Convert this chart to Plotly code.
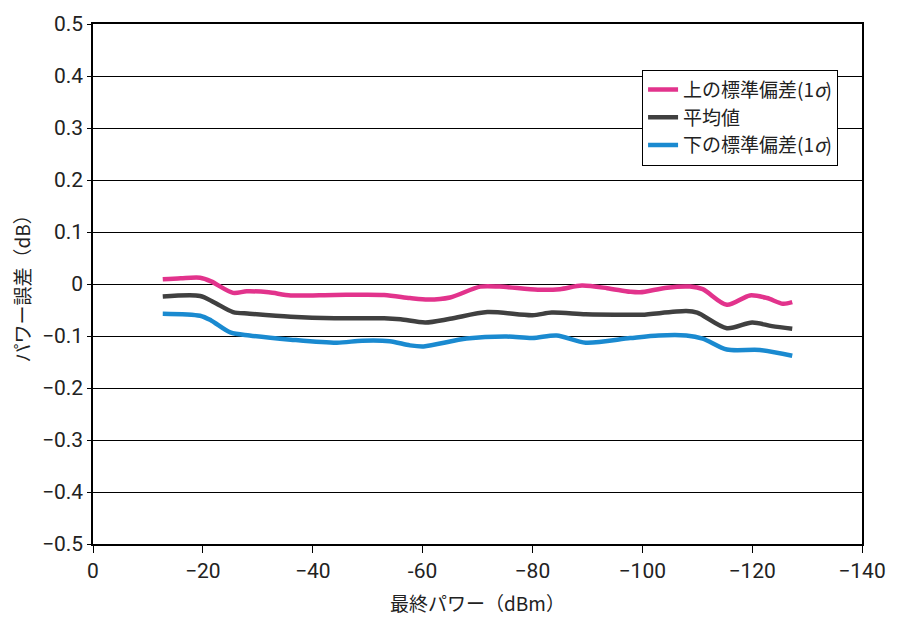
import plotly.graph_objects as go

# Upper standard deviation (1σ)
upper_x = [-12.7, -16, -19.5, -21.5, -25.5, -28, -32, -36, -44, -53, -57.7, -61, -65, -70.5, -74,
           -81, -85, -89, -93.6, -97.8, -99.6, -104.5, -108.7, -111, -115.4, -119.6, -122.7, -125.6, -127.3]
upper_y = [0.009, 0.011, 0.012, 0.005, -0.017, -0.014, -0.016, -0.022, -0.021, -0.021, -0.027, -0.030,
           -0.026, -0.005, -0.005, -0.011, -0.010, -0.003, -0.008, -0.015, -0.016, -0.007, -0.005,
           -0.010, -0.040, -0.022, -0.027, -0.038, -0.035]

# Mean
mean_x = [-12.7, -19.5, -22, -25.5, -28.5, -36, -44, -53, -56, -60.5, -65, -71.8, -80, -83.5, -89.7,
          -97.8, -100, -108, -110, -115.4, -120, -123.6, -127.3]
mean_y = [-0.024, -0.023, -0.035, -0.054, -0.057, -0.063, -0.066, -0.066, -0.068, -0.074, -0.067,
          -0.054, -0.060, -0.055, -0.058, -0.059, -0.059, -0.052, -0.055, -0.085, -0.074, -0.081, -0.086]

# Lower standard deviation (1σ)
lower_x = [-12.7, -19.5, -21.5, -25, -28.5, -36, -44.4, -49, -54, -57.7, -60.2, -68, -75.3, -80, -84.4,
           -89.7, -97.8, -103, -108, -111, -115.4, -121.4, -127.3]
lower_y = [-0.057, -0.061, -0.070, -0.093, -0.099, -0.107, -0.113, -0.109, -0.110, -0.118, -0.120,
           -0.105, -0.101, -0.104, -0.099, -0.113, -0.104, -0.099, -0.099, -0.105, -0.126, -0.127, -0.138]

x_tickvals = [0, -20, -40, -60, -80, -100, -120, -140]
x_ticktext = ["0", "−20", "−40", "-60", "−80", "−100", "−120", "−140"]
y_tickvals = [0.5, 0.4, 0.3, 0.2, 0.1, 0, -0.1, -0.2, -0.3, -0.4, -0.5]
y_ticktext = ["0.5", "0.4", "0.3", "0.2", "0.1", "0", "−0.1", "−0.2", "−0.3", "−0.4", "−0.5"]

series_names = ["上の標準偏差(1<i>σ</i>)", "平均値", "下の標準偏差(1<i>σ</i>)"]
colors = ["#E2338C", "#404040", "#1A8AD0"]

NUMFONT = "Liberation Sans Narrow, Roboto, sans-serif"
JPFONT = "Noto Sans CJK JP, sans-serif"
TXT = "#222222"

fig = go.Figure()
for xs, ys, name, c in zip([upper_x, mean_x, lower_x], [upper_y, mean_y, lower_y], series_names, colors):
    fig.add_trace(go.Scatter(x=xs, y=ys, mode="lines", name=name,
                             line=dict(color=c, width=4.5, shape="spline", smoothing=0.8)))

fig.update_layout(
    width=901, height=624,
    margin=dict(l=93, r=39, t=16, b=77),
    paper_bgcolor="white", plot_bgcolor="white",
    font=dict(family=NUMFONT, size=21, color=TXT),
    showlegend=True,
    legend=dict(x=0.714, y=0.912, xanchor="left", yanchor="top",
                bgcolor="white", bordercolor="black", borderwidth=1,
                font=dict(family=JPFONT, size=19, color=TXT),
                tracegroupgap=0, itemwidth=30),
    xaxis=dict(range=[0, -140], tickvals=x_tickvals, ticktext=x_ticktext,
               showgrid=False, zeroline=False, showline=True, linecolor="black", linewidth=1.5,
               mirror=True, ticks="outside", ticklen=7, tickcolor="black",
               title=dict(text="最終パワー（dBm）", font=dict(family=JPFONT, size=19, color=TXT),
                          standoff=16),
               tickfont=dict(family=NUMFONT, size=21, color=TXT)),
    yaxis=dict(range=[-0.5, 0.5], tickvals=y_tickvals, ticktext=y_ticktext,
               showgrid=True, gridcolor="black", gridwidth=1, zeroline=False,
               showline=True, linecolor="black", linewidth=1.5, mirror=True,
               ticks="outside", ticklen=4, tickcolor="black",
               title=dict(text="パワー誤差（dB）", font=dict(family=JPFONT, size=19, color=TXT),
                          standoff=6),
               tickfont=dict(family=NUMFONT, size=21, color=TXT)),
)

fig.write_html("out.html")
